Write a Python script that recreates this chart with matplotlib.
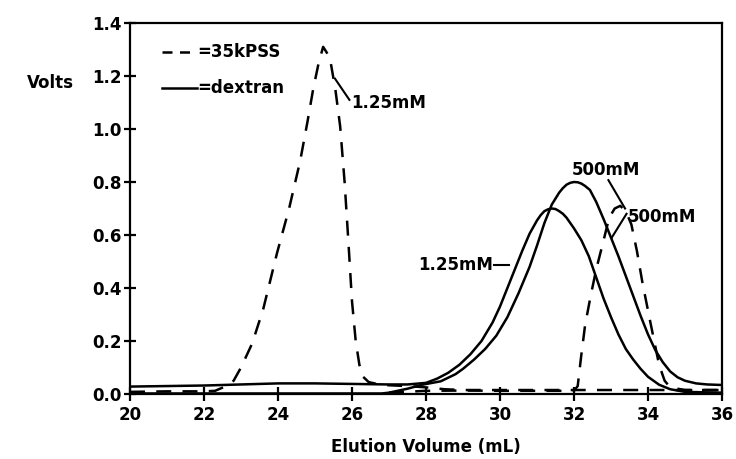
import matplotlib
matplotlib.use("Agg")
import matplotlib.pyplot as plt
from matplotlib.lines import Line2D

# ---- data: elution volume (mL) and detector response (V) ----
pss_125_x = [20.0, 21.0, 22.0, 22.3, 22.6, 22.8, 23.0, 23.3, 23.6, 23.97, 24.3,
             24.6, 24.8, 24.95, 25.1, 25.22, 25.4, 25.55, 25.68, 25.8, 25.9,
             26.0, 26.1, 26.2, 26.3, 26.45, 26.7, 27.0, 27.5, 28.0, 28.5,
             29.0, 30.0, 31.0, 32.0, 33.0, 34.0, 35.0, 36.0]
pss_125_y = [0.008, 0.01, 0.01, 0.012, 0.03, 0.05, 0.10, 0.19, 0.32, 0.53, 0.70,
             0.88, 1.03, 1.15, 1.25, 1.31, 1.27, 1.15, 1.01, 0.80, 0.58,
             0.35, 0.20, 0.11, 0.065, 0.045, 0.037, 0.033, 0.03, 0.025, 0.018,
             0.015, 0.015, 0.015, 0.015, 0.015, 0.015, 0.015, 0.015]

pss_500_x = [27.0, 28.0, 29.0, 30.0, 31.0, 32.0, 32.1, 32.2, 32.3, 32.45, 32.6,
             32.8, 32.95, 33.1, 33.25, 33.4, 33.55, 33.7, 33.85, 34.05, 34.3,
             34.45, 34.6, 35.0, 36.0]
pss_500_y = [0.005, 0.012, 0.013, 0.012, 0.012, 0.012, 0.03, 0.15, 0.26, 0.37, 0.47,
             0.58, 0.665, 0.70, 0.71, 0.69, 0.64, 0.54, 0.42, 0.28, 0.11,
             0.05, 0.025, 0.015, 0.015]

dex_125_x = [20.0, 21.0, 22.0, 23.0, 24.0, 25.0, 26.0, 27.0, 27.5, 28.0, 28.3,
             28.6, 28.9, 29.2, 29.5, 29.8, 30.0, 30.2, 30.4, 30.6, 30.8, 31.0,
             31.1, 31.2, 31.3, 31.4, 31.5, 31.6, 31.7, 31.8, 32.0, 32.2, 32.4,
             32.6, 32.8, 33.0, 33.2, 33.4, 33.6, 33.8, 34.0, 34.3, 34.6, 35.0, 36.0]
dex_125_y = [0.028, 0.03, 0.032, 0.036, 0.04, 0.04, 0.038, 0.036, 0.036, 0.042, 0.058,
             0.08, 0.11, 0.15, 0.20, 0.27, 0.33, 0.40, 0.47, 0.54, 0.605, 0.655,
             0.675, 0.69, 0.697, 0.70, 0.698, 0.69, 0.68, 0.665, 0.625, 0.58, 0.52,
             0.44, 0.36, 0.29, 0.225, 0.17, 0.13, 0.095, 0.065, 0.035, 0.018, 0.008, 0.005]

dex_500_x = [20.0, 26.8, 27.0, 27.5, 27.9, 28.4, 28.8, 29.0, 29.3, 29.6, 29.9,
             30.2, 30.5, 30.8, 31.0, 31.2, 31.4, 31.6, 31.7, 31.8, 31.9, 32.0,
             32.1, 32.2, 32.3, 32.43, 32.6, 32.8, 33.0, 33.2, 33.4, 33.6, 33.8,
             34.0, 34.2, 34.4, 34.6, 34.8, 35.0, 35.3, 35.6, 36.0]
dex_500_y = [0.002, 0.002, 0.005, 0.02, 0.035, 0.048, 0.075, 0.095, 0.13, 0.17, 0.22,
             0.29, 0.38, 0.48, 0.56, 0.645, 0.715, 0.76, 0.777, 0.79, 0.797, 0.80,
             0.799, 0.794, 0.785, 0.77, 0.725, 0.66, 0.59, 0.52, 0.445, 0.37, 0.295,
             0.225, 0.165, 0.12, 0.085, 0.063, 0.05, 0.04, 0.036, 0.034]

x_ticks = [20, 22, 24, 26, 28, 30, 32, 34, 36]
y_ticks = [0.0, 0.2, 0.4, 0.6, 0.8, 1.0, 1.2, 1.4]

plt.rcParams["font.family"] = ["DejaVu Sans"]
plt.rcParams["font.weight"] = "bold"

fig = plt.figure(figsize=(7.36, 4.59), dpi=100)
ax = fig.add_axes([130 / 736, 1 - 394 / 459, (722 - 130) / 736, (394 - 23) / 459])

lw = 1.8
dash = (0, (6, 4.5))
ax.plot(pss_125_x, pss_125_y, color="black", lw=lw, linestyle=dash)
ax.plot(pss_500_x, pss_500_y, color="black", lw=lw, linestyle=dash)
ax.plot(dex_125_x, dex_125_y, color="black", lw=lw)
ax.plot(dex_500_x, dex_500_y, color="black", lw=lw)

ax.set_xlim(20, 36)
ax.set_ylim(0, 1.4)
ax.set_xticks(x_ticks)
ax.set_xticklabels([str(v) for v in x_ticks])
ax.set_yticks(y_ticks)
ax.set_yticklabels([f"{v:.1f}" for v in y_ticks])

for side in ["left", "right", "top", "bottom"]:
    ax.spines[side].set_linewidth(1.6)
ax.tick_params(axis="x", direction="inout", length=10, width=1.6, pad=4, labelsize=12)
ax.tick_params(axis="y", direction="inout", length=9, width=1.6, pad=1.5, labelsize=12)
for lab in ax.get_xticklabels() + ax.get_yticklabels():
    lab.set_fontweight("bold")

ax.set_xlabel("Elution Volume (mL)", fontsize=12, fontweight="bold", labelpad=10)
fig.text(27 / 736, 1 - 83 / 459, "Volts", fontsize=12, fontweight="bold",
         ha="left", va="center")

# legend drawn by hand: line sample followed by "=name"
ax.add_line(Line2D([20.86, 21.8], [1.29, 1.29], color="black", lw=lw, linestyle=(0, (4, 3))))
ax.text(21.82, 1.29, "=35kPSS", fontsize=12, fontweight="bold", va="center", ha="left")
ax.add_line(Line2D([20.86, 21.8], [1.155, 1.155], color="black", lw=lw))
ax.text(21.82, 1.155, "=dextran", fontsize=12, fontweight="bold", va="center", ha="left")

# curve annotations with leader lines
lab_kw = dict(fontsize=12, fontweight="bold", color="black")
ax.plot([25.54, 25.93], [1.19, 1.11], color="black", lw=1.5)
ax.text(25.97, 1.098, "1.25mM", va="center", ha="left", **lab_kw)

ax.text(31.95, 0.845, "500mM", va="center", ha="left", **lab_kw)
ax.plot([32.93, 33.38], [0.807, 0.70], color="black", lw=1.5)

ax.text(33.45, 0.669, "500mM", va="center", ha="left", **lab_kw)
ax.plot([33.02, 33.42], [0.59, 0.68], color="black", lw=1.5)

ax.text(29.82, 0.487, "1.25mM", va="center", ha="right", **lab_kw)
ax.plot([29.84, 30.25], [0.487, 0.487], color="black", lw=1.5)

fig.savefig("out.png", dpi=100)
